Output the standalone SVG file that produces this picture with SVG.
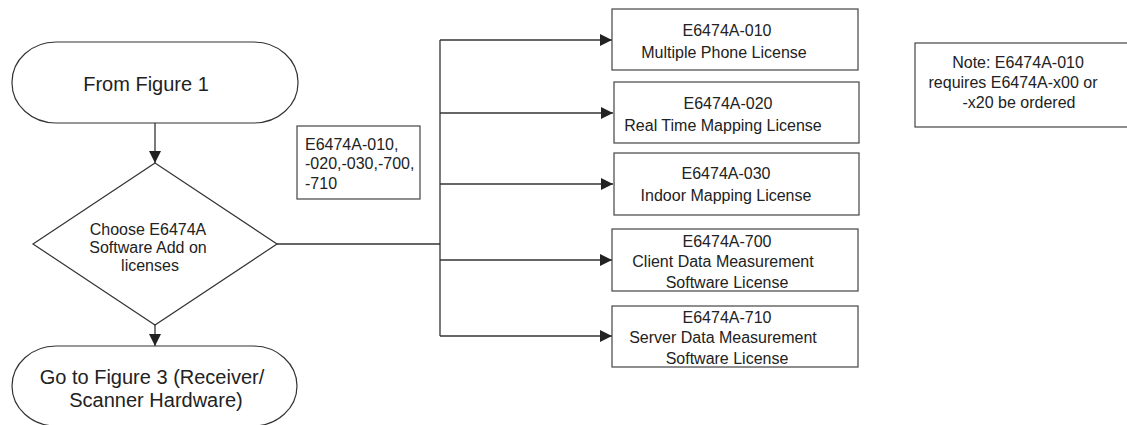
<svg xmlns="http://www.w3.org/2000/svg" width="1127" height="425" viewBox="0 0 1127 425">
<style>
.shape{fill:#fff;stroke:#333;stroke-width:1.2}
.box{fill:#fff;stroke:#444;stroke-width:1.2}
.t{font-family:"Liberation Sans",Arial,sans-serif;fill:#222}
.c{text-anchor:middle}
.f20{font-size:20px}
.f16{font-size:16px}
.wire{fill:none;stroke:#333;stroke-width:1.3}
</style>
<defs>
<marker id="arr" markerUnits="userSpaceOnUse" markerWidth="12" markerHeight="12" viewBox="0 0 12 12" refX="12" refY="6" orient="auto">
<path d="M0,0 L12,6 L0,12 z" fill="#222"/>
</marker>
</defs>
<rect width="1127" height="425" fill="#fff"/>
<g id="connectors">
<line class="wire" x1="155" y1="123" x2="155" y2="163" marker-end="url(#arr)"/>
<line class="wire" x1="155" y1="325" x2="155" y2="346" marker-end="url(#arr)"/>
<polyline class="wire" points="277,244 440,244"/>
<line class="wire" x1="440" y1="40" x2="440" y2="336"/>
<line class="wire" x1="440" y1="40" x2="612" y2="40" marker-end="url(#arr)"/>
<line class="wire" x1="440" y1="113" x2="613" y2="113" marker-end="url(#arr)"/>
<line class="wire" x1="440" y1="184" x2="613" y2="184" marker-end="url(#arr)"/>
<line class="wire" x1="440" y1="260" x2="612" y2="260" marker-end="url(#arr)"/>
<line class="wire" x1="440" y1="336" x2="612" y2="336" marker-end="url(#arr)"/>
</g>
<g id="start">
<rect class="shape" x="12" y="42" width="286" height="81" rx="44" ry="40"/>
<text class="t c f20" x="146" y="91">From Figure 1</text>
</g>
<g id="decision">
<polygon class="shape" points="155,163 277,244 155,325 33,244"/>
<text class="t c f16" x="148" y="235">Choose E6474A</text>
<text class="t c f16" x="148" y="253">Software Add on</text>
<text class="t c f16" x="150" y="271">licenses</text>
</g>
<g id="end">
<rect class="shape" x="12" y="346" width="285" height="80" rx="44" ry="40"/>
<text class="t c f20" x="152" y="384">Go to Figure 3 (Receiver/</text>
<text class="t c f20" x="156" y="407">Scanner Hardware)</text>
</g>
<g id="label">
<rect class="box" x="297" y="126" width="123" height="73"/>
<text class="t f16" x="305" y="150">E6474A-010,</text>
<text class="t f16" x="305" y="169">-020,-030,-700,</text>
<text class="t f16" x="305" y="189">-710</text>
</g>
<g id="lic010">
<rect class="box" x="612" y="9" width="246" height="61"/>
<text class="t c f16" x="727" y="36">E6474A-010</text>
<text class="t c f16" x="724" y="58">Multiple Phone License</text>
</g>
<g id="lic020">
<rect class="box" x="614" y="82" width="245" height="61"/>
<text class="t c f16" x="728" y="109">E6474A-020</text>
<text class="t c f16" x="723" y="131">Real Time Mapping License</text>
</g>
<g id="lic030">
<rect class="box" x="614" y="153" width="245" height="62"/>
<text class="t c f16" x="726" y="179">E6474A-030</text>
<text class="t c f16" x="726" y="201">Indoor Mapping License</text>
</g>
<g id="lic700">
<rect class="box" x="612" y="229" width="246" height="62"/>
<text class="t c f16" x="727" y="247">E6474A-700</text>
<text class="t c f16" x="723" y="267">Client Data Measurement</text>
<text class="t c f16" x="727" y="288">Software License</text>
</g>
<g id="lic710">
<rect class="box" x="612" y="306" width="246" height="61"/>
<text class="t c f16" x="727" y="323">E6474A-710</text>
<text class="t c f16" x="723" y="343">Server Data Measurement</text>
<text class="t c f16" x="727" y="364">Software License</text>
</g>
<g id="note">
<rect class="box" x="915" y="43" width="220" height="84"/>
<text class="t c f16" x="1018" y="68">Note: E6474A-010</text>
<text class="t c f16" x="1013" y="88">requires E6474A-x00 or</text>
<text class="t c f16" x="1019" y="108">-x20 be ordered</text>
</g>
</svg>
